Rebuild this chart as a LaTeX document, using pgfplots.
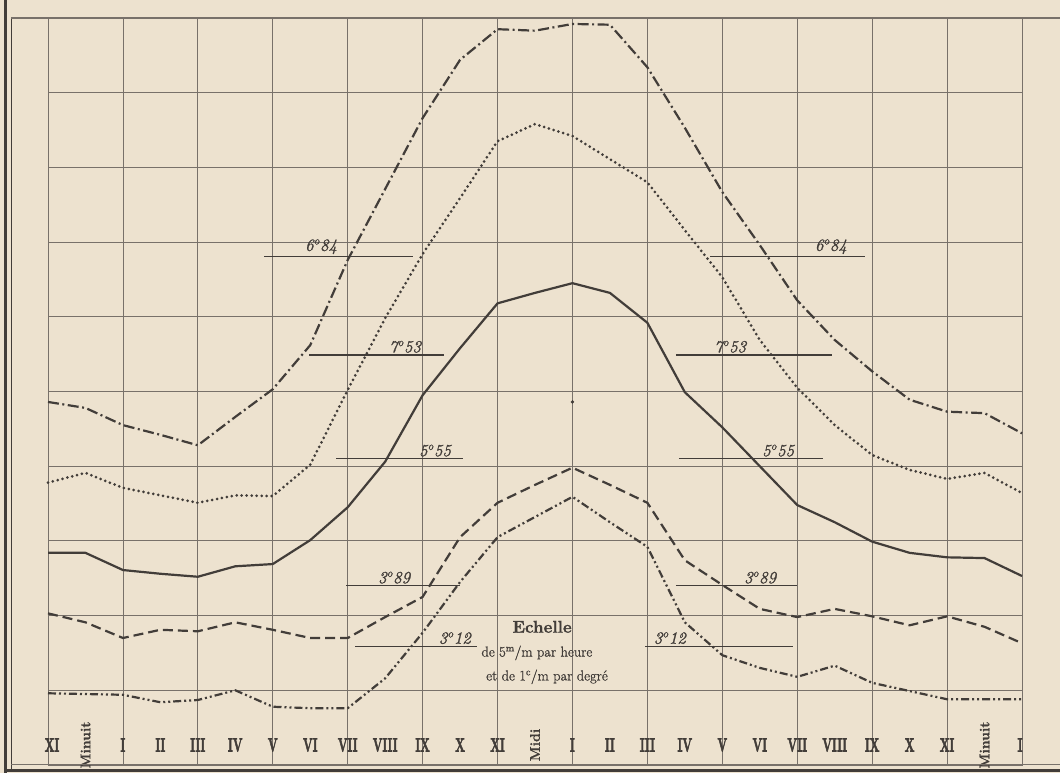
\documentclass[border=0pt]{standalone}
\usepackage{pgfplots}
\pgfplotsset{compat=1.18}
\usepackage{pgfplotstable}
\usepackage{fontspec}
\newfontfamily\romfont{Latin Modern Roman}[FakeBold=4]
\newfontfamily\txtfont{Latin Modern Roman}[FakeBold=1.2]

\definecolor{paper}{HTML}{EDE2CF}
\definecolor{ink}{HTML}{423D39}
\definecolor{gridc}{HTML}{78716A}

% roman hour labels, narrow and heavy, and the rotated Minuit / Midi
\newcommand{\rn}[1]{\scalebox{0.6}[1]{\fontsize{19}{19}\romfont\bfseries #1}}
\newcommand{\mn}[1]{\rotatebox{90}{\fontsize{14}{14}\txtfont\bfseries #1}}
\newcommand{\tv}[2]{#1\textsuperscript{o}#2}

% hours (-1 = XI of the previous night ... 25 = I of the next night), grid units
\pgfplotstableread{
h   dd    dt    sl    ds    ddd
-1  4.86  3.78  2.84  2.03  0.96
0   4.78  3.91  2.84  1.91  0.95
1   4.55  3.71  2.61  1.70  0.94
2   4.42  3.61  2.56  1.81  0.84
3   4.28  3.51  2.52  1.79  0.87
4   4.66  3.61  2.66  1.91  1.00
5   5.03  3.60  2.69  1.81  0.78
6   5.62  4.02  3.01  1.70  0.76
7   6.76  5.02  3.45  1.70  0.76
8   7.71  5.98  4.06  1.98  1.16
9   8.66  6.84  4.95  2.25  1.77
10  9.44  7.59  5.58  3.05  2.45
11  9.85  8.35  6.18  3.51  3.05
12  9.83  8.58  6.32  3.75  3.32
13  9.92  8.42  6.45  3.98  3.59
14  9.91  8.11  6.32  3.75  3.25
15  9.34  7.80  5.92  3.51  2.92
16  8.53  7.16  4.99  2.74  1.91
17  7.67  6.53  4.52  2.41  1.47
18  6.96  5.69  4.00  2.09  1.30
19  6.22  5.05  3.48  1.98  1.18
20  5.69  4.55  3.25  2.09  1.33
21  5.27  4.15  2.99  1.99  1.10
22  4.89  3.95  2.84  1.87  0.99
23  4.73  3.83  2.78  1.99  0.88
24  4.71  3.91  2.77  1.85  0.88
25  4.44  3.64  2.53  1.63  0.88
}\hours

\begin{document}
\begin{tikzpicture}[x=1pt,y=1pt]
\fill[paper] (0,0) rectangle (1060,773);

\begin{axis}[
  at={(48pt,8pt)}, anchor=south west,
  scale only axis, width=974pt, height=747pt,
  xmin=-1, xmax=25, ymin=0, ymax=10,
  axis line style={gridc, line width=0.9pt},
  xtick={-1,1,...,25}, xticklabels={},
  ytick={0,...,10}, yticklabels={},
  major tick length=0pt,
  grid=major,
  grid style={gridc, line width=0.8pt},
  extra x ticks={-1,0,...,25},
  extra x tick labels={{\hspace*{8pt}\rn{XI}},\mn{Minuit},\rn{I},\rn{II},\rn{III},\rn{IV},\rn{V},\rn{VI},\rn{VII},\rn{VIII},\rn{IX},\rn{X},\rn{XI},\mn{Midi},\rn{I},\rn{II},\rn{III},\rn{IV},\rn{V},\rn{VI},\rn{VII},\rn{VIII},\rn{IX},\rn{X},\rn{XI},\mn{Minuit},{\rn{I}\hspace*{4pt}}},
  extra x tick style={grid=none, major tick length=0pt,
    tick label style={anchor=center, yshift=20pt, text=ink}},
  clip=false,
]
\addplot[ink, line width=2.2pt, dash pattern=on 11pt off 3.5pt on 2pt off 3.5pt] table[x=h,y=dd] {\hours};
\addplot[ink, line width=3pt, line cap=round, dash pattern=on 0pt off 5pt] table[x=h,y=dt] {\hours};
\addplot[ink, line width=2.2pt] table[x=h,y=sl] {\hours};
\addplot[ink, line width=2.2pt, dash pattern=on 10pt off 5pt] table[x=h,y=ds] {\hours};
\addplot[ink, line width=2.2pt, dash pattern=on 8pt off 3pt on 2pt off 3pt on 2pt off 3pt] table[x=h,y=ddd] {\hours};

% reference levels
\addplot[ink, line width=1.4pt] coordinates {(4.77,6.81) (8.74,6.81)};
\addplot[ink, line width=1.4pt] coordinates {(16.67,6.81) (20.81,6.81)};
\addplot[ink, line width=1.4pt] coordinates {(5.97,5.49) (9.57,5.49)};
\addplot[ink, line width=1.4pt] coordinates {(15.76,5.49) (19.93,5.49)};
\addplot[ink, line width=1.4pt] coordinates {(6.69,4.10) (10.08,4.10)};
\addplot[ink, line width=1.4pt] coordinates {(15.84,4.10) (19.69,4.10)};
\addplot[ink, line width=1.4pt] coordinates {(6.96,2.40) (10.00,2.40)};
\addplot[ink, line width=1.4pt] coordinates {(15.76,2.40) (18.99,2.40)};
\addplot[ink, line width=1.4pt] coordinates {(7.20,1.59) (10.45,1.59)};
\addplot[ink, line width=1.4pt] coordinates {(14.94,1.59) (18.89,1.59)};
\addplot[ink, only marks, mark=*, mark size=1.5pt] coordinates {(13,4.86)};

\tikzset{lbl/.style={anchor=south, inner sep=2pt, text=ink,
  font=\fontsize{17}{17}\txtfont\itshape}}
\node[lbl] at (axis cs:6.29,6.81) {\tv{6}{84}};
\node[lbl] at (axis cs:19.90,6.81) {\tv{6}{84}};
\node[lbl] at (axis cs:8.53,5.49) {\tv{7}{53}};
\node[lbl] at (axis cs:17.21,5.49) {\tv{7}{53}};
\node[lbl] at (axis cs:9.33,4.10) {\tv{5}{55}};
\node[lbl] at (axis cs:18.49,4.10) {\tv{5}{55}};
\node[lbl] at (axis cs:8.24,2.40) {\tv{3}{89}};
\node[lbl] at (axis cs:18.01,2.40) {\tv{3}{89}};
\node[lbl] at (axis cs:9.86,1.59) {\tv{3}{12}};
\node[lbl] at (axis cs:15.60,1.59) {\tv{3}{12}};

\node[text=ink, font=\fontsize{17}{17}\txtfont\bfseries] at (axis cs:12.19,1.85) {Echelle};
\node[text=ink, font=\fontsize{14.5}{14.5}\txtfont] at (axis cs:12.05,1.50) {de 5\textsuperscript{m}/m par heure};
\node[text=ink, font=\fontsize{14.5}{14.5}\txtfont] at (axis cs:12.32,1.18) {et de 1\textsuperscript{c}/m par degré};
\end{axis}

% frame
\draw[ink, line width=3pt] (5,0) -- (5,773);
\draw[ink, line width=0.9pt] (11,3) -- (11,755);
\draw[gridc, line width=1.2pt] (11,755) -- (1060,755);
\draw[gridc, line width=1pt] (11,8) -- (1060,8);
\draw[ink, line width=3pt] (5,2.5) -- (1060,2.5);

\pgfresetboundingbox
\useasboundingbox (0,0) rectangle (1060,773);
\end{tikzpicture}
\end{document}
